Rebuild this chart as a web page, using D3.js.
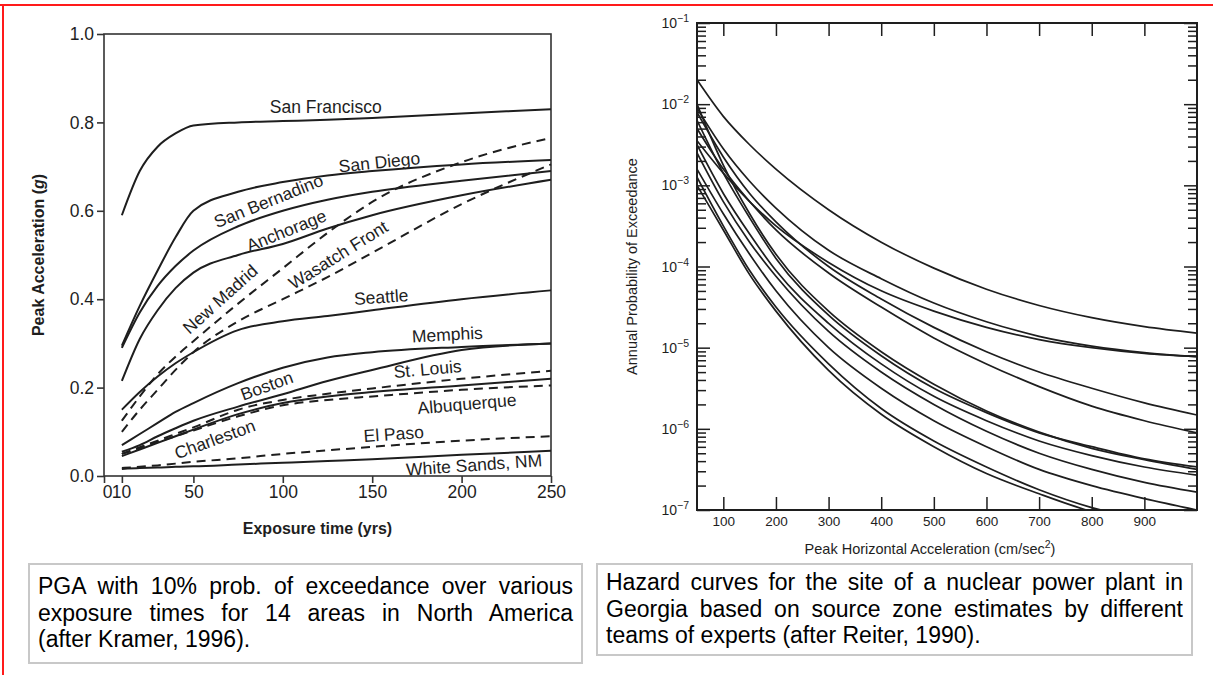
<!DOCTYPE html>
<html>
<head>
<meta charset="utf-8">
<script src="https://cdn.jsdelivr.net/npm/d3@7/dist/d3.min.js"></script>
<style>
  html, body { margin: 0; padding: 0; background: #fff; }
  #wrap { position: relative; width: 1213px; height: 675px; overflow: hidden; }
  svg { position: absolute; left: 0; top: 0; }
</style>
</head>
<body>
<div id="wrap"></div>
<script>
// ---------------- LEFT CHART DATA (Kramer, 1996) ----------------
const exposureYears = [10, 20, 30, 40, 50, 75, 100, 125, 150, 200, 250];
const sanFrancisco = [0.59, 0.69, 0.745, 0.775, 0.793, 0.80, 0.803, 0.806, 0.81, 0.82, 0.83];
const sanDiego     = [0.295, 0.385, 0.465, 0.54, 0.60, 0.643, 0.665, 0.68, 0.69, 0.705, 0.715];
const sanBernadino = [0.29, 0.37, 0.43, 0.475, 0.51, 0.565, 0.60, 0.625, 0.643, 0.668, 0.69];
const anchorage    = [0.215, 0.31, 0.375, 0.425, 0.46, 0.50, 0.525, 0.56, 0.59, 0.635, 0.67];
const newMadrid    = [0.125, 0.18, 0.23, 0.27, 0.305, 0.39, 0.47, 0.55, 0.62, 0.71, 0.765];
const wasatchFront = [0.10, 0.15, 0.195, 0.24, 0.28, 0.35, 0.40, 0.45, 0.505, 0.615, 0.705];
const seattle      = [0.15, 0.19, 0.225, 0.255, 0.28, 0.33, 0.35, 0.362, 0.375, 0.40, 0.42];
const boston       = [0.07, 0.095, 0.12, 0.145, 0.165, 0.21, 0.245, 0.268, 0.28, 0.292, 0.30];
const memphis      = [0.055, 0.07, 0.09, 0.108, 0.125, 0.157, 0.185, 0.215, 0.24, 0.285, 0.30];
const stLouis      = [0.05, 0.065, 0.08, 0.095, 0.11, 0.15, 0.172, 0.186, 0.198, 0.22, 0.238];
const charleston   = [0.045, 0.06, 0.075, 0.09, 0.105, 0.14, 0.165, 0.18, 0.19, 0.205, 0.22];
const albuquerque  = [0.05, 0.063, 0.077, 0.09, 0.103, 0.135, 0.16, 0.172, 0.18, 0.195, 0.205];
const elPaso       = [0.018, 0.021, 0.024, 0.028, 0.032, 0.04, 0.05, 0.058, 0.066, 0.08, 0.09];
const whiteSands   = [0.016, 0.018, 0.019, 0.021, 0.022, 0.026, 0.03, 0.034, 0.038, 0.048, 0.057];

const leftSeries = [
  {name: "San Francisco", values: sanFrancisco, dashed: false},
  {name: "San Diego", values: sanDiego, dashed: false},
  {name: "San Bernadino", values: sanBernadino, dashed: false},
  {name: "Anchorage", values: anchorage, dashed: false},
  {name: "New Madrid", values: newMadrid, dashed: true},
  {name: "Wasatch Front", values: wasatchFront, dashed: true},
  {name: "Seattle", values: seattle, dashed: false},
  {name: "Boston", values: boston, dashed: false},
  {name: "Memphis", values: memphis, dashed: false},
  {name: "St. Louis", values: stLouis, dashed: true},
  {name: "Charleston", values: charleston, dashed: false},
  {name: "Albuquerque", values: albuquerque, dashed: true},
  {name: "El Paso", values: elPaso, dashed: true},
  {name: "White Sands, NM", values: whiteSands, dashed: false}
];
// label anchors in data units [text, years, g, rotation deg]
const leftLabels = [
  ["San Francisco", 124, 0.835, 0],
  ["San Diego", 154, 0.71, -6],
  ["San Bernadino", 92, 0.622, -22],
  ["Anchorage", 102, 0.555, -22],
  ["New Madrid", 65, 0.40, -42],
  ["Wasatch Front", 131, 0.50, -32],
  ["Seattle", 155, 0.405, -4],
  ["Memphis", 192, 0.32, -3],
  ["Boston", 91, 0.204, -20],
  ["St. Louis", 181, 0.242, -5],
  ["Albuquerque", 203, 0.163, -5],
  ["Charleston", 62, 0.083, -20],
  ["El Paso", 162, 0.095, -4],
  ["White Sands, NM", 207, 0.025, -4]
];
const leftYTicks = [0, 0.2, 0.4, 0.6, 0.8, 1.0];
const leftXTicks = [0, 10, 50, 100, 150, 200, 250];

// ---------------- RIGHT CHART DATA (Reiter, 1990) ----------------
const pgaCm = [50, 100, 150, 200, 300, 400, 500, 600, 700, 800, 900, 1000];
// log10 of annual probability of exceedance
const hazard01 = [-1.70, -2.15, -2.50, -2.80, -3.30, -3.70, -4.02, -4.28, -4.48, -4.63, -4.74, -4.82];
const hazard02 = [-2.05, -2.55, -2.95, -3.28, -3.80, -4.15, -4.45, -4.68, -4.86, -4.98, -5.06, -5.11];
const hazard03 = [-2.45, -2.85, -3.20, -3.50, -3.95, -4.30, -4.55, -4.75, -4.90, -5.00, -5.07, -5.11];
const hazard04 = [-2.10, -2.65, -3.10, -3.45, -4.00, -4.40, -4.75, -5.05, -5.30, -5.50, -5.68, -5.83];
const hazard05 = [-2.30, -2.80, -3.20, -3.55, -4.08, -4.50, -4.88, -5.20, -5.48, -5.72, -5.90, -6.05];
const hazard06 = [-2.20, -2.85, -3.40, -3.90, -4.60, -5.10, -5.50, -5.80, -6.05, -6.22, -6.37, -6.47];
const hazard07 = [-2.50, -3.10, -3.60, -4.05, -4.70, -5.20, -5.60, -5.90, -6.15, -6.33, -6.47, -6.57];
const hazard08 = [-2.60, -3.20, -3.70, -4.12, -4.80, -5.30, -5.70, -6.03, -6.30, -6.50, -6.66, -6.78];
const hazard09 = [-2.80, -3.35, -3.85, -4.30, -5.00, -5.50, -5.90, -6.22, -6.50, -6.70, -6.86, -7.00];
const hazard10 = [-2.90, -3.50, -4.05, -4.50, -5.20, -5.75, -6.15, -6.47, -6.75, -6.97, -7.12, -7.25];
const hazard11 = [-3.00, -3.55, -4.10, -4.55, -5.28, -5.82, -6.22, -6.55, -6.80, -7.02, -7.17, -7.30];
const hazard12 = [-2.00, -2.75, -3.35, -3.85, -4.55, -5.05, -5.45, -5.78, -6.04, -6.24, -6.38, -6.50];
const rightSeries = [hazard01, hazard02, hazard03, hazard04, hazard05, hazard06,
                     hazard07, hazard08, hazard09, hazard10, hazard11, hazard12];
const rightXTicks = [100, 200, 300, 400, 500, 600, 700, 800, 900];
const rightYDecades = [-7, -6, -5, -4, -3, -2, -1];

// ---------------- CAPTIONS (line by line, as printed) ----------------
const captionLeftLines = [
  "PGA with 10% prob. of exceedance over various",
  "exposure times for 14 areas in North America",
  "(after Kramer, 1996)."
];
const captionRightLines = [
  "Hazard curves for the site of a nuclear power plant in",
  "Georgia based on source zone estimates by different",
  "teams of experts (after Reiter, 1990)."
];

// =================================================================
const W = 1213, H = 675;
const wrap = d3.select("#wrap");
const svg = wrap.append("svg").attr("width", W).attr("height", H);
const FONT = "'Liberation Sans', Arial, Helvetica, sans-serif";
const INK = "#1e1e1e";

// page frame (red)
svg.append("line").attr("x1", 0).attr("x2", W).attr("y1", 5).attr("y2", 5)
   .attr("stroke", "#ff1a1a").attr("stroke-width", 2);
svg.append("line").attr("x1", 3).attr("x2", 3).attr("y1", 5).attr("y2", H)
   .attr("stroke", "#ff1a1a").attr("stroke-width", 2);

// ---------------- LEFT CHART ----------------
const xL = d3.scaleLinear().domain([0, 250]).range([104, 551]);
const yL = d3.scaleLinear().domain([0, 1]).range([476, 34]);
const gL = svg.append("g");

gL.append("rect").attr("x", xL(0)).attr("y", yL(1)).attr("width", xL(250) - xL(0))
  .attr("height", yL(0) - yL(1)).attr("fill", "none").attr("stroke", "#333").attr("stroke-width", 1.6);

const axLy = gL.append("g").attr("transform", `translate(${xL(0)},0)`)
  .call(d3.axisLeft(yL).tickValues(leftYTicks).tickFormat(d3.format(".1f")).tickSize(7).tickPadding(3));
const axLx = gL.append("g").attr("transform", `translate(0,${yL(0)})`)
  .call(d3.axisBottom(xL).tickValues(leftXTicks).tickFormat(d3.format("d")).tickSize(7).tickPadding(3));
[axLy, axLx].forEach(a => {
  a.select(".domain").remove();
  a.selectAll("line").attr("stroke", "#333").attr("stroke-width", 1.6);
  a.selectAll("text").attr("font-family", FONT).attr("font-size", 17.5).attr("fill", INK);
});
axLx.selectAll(".tick text").filter(d => d === 0).attr("dx", 3);
axLx.selectAll(".tick text").filter(d => d === 10).attr("dx", -1);

const lineL = d3.line().x((d, i) => xL(exposureYears[i])).y(d => yL(d)).curve(d3.curveMonotoneX);
gL.selectAll("path.curve").data(leftSeries).join("path").attr("class", "curve")
  .attr("d", d => lineL(d.values)).attr("fill", "none").attr("stroke", INK).attr("stroke-width", 2)
  .attr("stroke-dasharray", d => d.dashed ? "9,6" : null);

gL.selectAll("text.lbl").data(leftLabels).join("text").attr("class", "lbl")
  .attr("transform", d => `translate(${xL(d[1])},${yL(d[2])}) rotate(${d[3]})`)
  .attr("text-anchor", "middle").attr("dominant-baseline", "central")
  .attr("font-family", FONT).attr("font-size", 17.5).attr("fill", INK).text(d => d[0]);

const tY = gL.append("text").attr("transform", `translate(38,${(yL(0) + yL(1)) / 2}) rotate(-90)`)
  .attr("text-anchor", "middle").attr("dominant-baseline", "central")
  .attr("font-family", FONT).attr("font-size", 16).attr("font-weight", "bold").attr("fill", INK);
tY.append("tspan").text("Peak Acceleration (");
tY.append("tspan").attr("font-style", "italic").text("g");
tY.append("tspan").text(")");
gL.append("text").attr("x", (xL(0) + xL(250)) / 2 - 10).attr("y", 534).attr("text-anchor", "middle")
  .attr("font-family", FONT).attr("font-size", 16).attr("font-weight", "bold").attr("fill", INK)
  .text("Exposure time (yrs)");

// ---------------- RIGHT CHART ----------------
const xR = d3.scaleLinear().domain([50, 1000]).range([697, 1197]);
const yR = d3.scaleLog().domain([1e-7, 1e-1]).range([510, 23]);
const gR = svg.append("g");
const x0 = xR.range()[0], x1 = xR.range()[1], yT = yR.range()[1], yB = yR.range()[0];

svg.append("defs").append("clipPath").attr("id", "clipR").append("rect")
  .attr("x", x0).attr("y", yT).attr("width", x1 - x0).attr("height", yB - yT);

const lineR = d3.line().x((d, i) => xR(pgaCm[i])).y(d => yR(Math.pow(10, d))).curve(d3.curveMonotoneX);
gR.append("g").attr("clip-path", "url(#clipR)").selectAll("path").data(rightSeries).join("path")
  .attr("d", d => lineR(d)).attr("fill", "none").attr("stroke", INK).attr("stroke-width", 1.7);

gR.append("rect").attr("x", x0).attr("y", yT).attr("width", x1 - x0).attr("height", yB - yT)
  .attr("fill", "none").attr("stroke", INK).attr("stroke-width", 2);

const axRb = gR.append("g").attr("transform", `translate(0,${yB})`)
  .call(d3.axisBottom(xR).tickValues(rightXTicks).tickSize(-13).tickPadding(6).tickFormat(d3.format("d")));
const axRt = gR.append("g").attr("transform", `translate(0,${yT})`)
  .call(d3.axisTop(xR).tickValues(rightXTicks).tickSize(-13).tickFormat(""));
const allLogTicks = yR.ticks();
const axRl = gR.append("g").attr("transform", `translate(${x0},0)`)
  .call(d3.axisLeft(yR).tickValues(allLogTicks).tickSize(-9).tickFormat(""));
const axRr = gR.append("g").attr("transform", `translate(${x1},0)`)
  .call(d3.axisRight(yR).tickValues(allLogTicks).tickSize(-9).tickFormat(""));
[axRb, axRt, axRl, axRr].forEach(a => {
  a.select(".domain").remove();
  a.selectAll("line").attr("stroke", INK).attr("stroke-width", 1.5);
});
[axRl, axRr].forEach(a => {
  a.selectAll(".tick").filter(d => Math.abs(Math.log10(d) - Math.round(Math.log10(d))) < 1e-9)
    .select("line").attr("x2", a === axRl ? 13 : -13);
});
axRb.selectAll("text").attr("font-family", FONT).attr("font-size", 13.5).attr("fill", INK);

const decLbl = gR.selectAll("text.dec").data(rightYDecades).join("text").attr("class", "dec")
  .attr("x", x0 - 8).attr("y", d => yR(Math.pow(10, d)) + 5).attr("text-anchor", "end")
  .attr("font-family", FONT).attr("font-size", 14).attr("fill", INK);
decLbl.append("tspan").text("10");
decLbl.append("tspan").attr("dy", -6).attr("font-size", 10.5).text(d => "\u2212" + Math.abs(d));

gR.append("text").attr("transform", `translate(637,${(yT + yB) / 2}) rotate(-90)`)
  .attr("text-anchor", "middle").attr("font-family", FONT).attr("font-size", 14.5).attr("fill", INK)
  .text("Annual Probability of Exceedance");
const tRx = gR.append("text").attr("x", 930).attr("y", 554).attr("text-anchor", "middle")
  .attr("font-family", FONT).attr("font-size", 14.5).attr("fill", INK);
tRx.append("tspan").text("Peak Horizontal Acceleration (cm/sec");
tRx.append("tspan").attr("dy", -6).attr("font-size", 10.5).text("2");
tRx.append("tspan").attr("dy", 6).text(")");

// ---------------- CAPTIONS ----------------
function caption(box, lines, baselines) {
  const g = svg.append("g");
  g.append("rect").attr("x", box.x).attr("y", box.y).attr("width", box.w).attr("height", box.h)
    .attr("fill", "#fff").attr("stroke", "#c8c8c8").attr("stroke-width", 2);
  const left = box.x + 9, right = box.x + box.w - 9;
  lines.forEach((ln, i) => {
    const t = g.append("text").attr("x", left).attr("y", baselines[i])
      .attr("font-family", FONT).attr("font-size", 23).attr("fill", "#000").text(ln);
    const natural = t.node().getComputedTextLength();
    const extra = (right - left) - natural;
    if (i < lines.length - 1) {
      const spaces = (ln.match(/ /g) || []).length;
      if (extra > 0 && spaces > 0) t.attr("word-spacing", extra / spaces);
      else if (extra < 0) t.attr("textLength", right - left).attr("lengthAdjust", "spacingAndGlyphs");
    } else if (extra < 0) {
      t.attr("textLength", right - left).attr("lengthAdjust", "spacingAndGlyphs");
    }
  });
}
caption({x: 29, y: 564, w: 553, h: 99}, captionLeftLines, [594, 620.5, 647]);
caption({x: 597, y: 564, w: 595, h: 91}, captionRightLines, [590, 616.5, 643]);
</script>
</body>
</html>
